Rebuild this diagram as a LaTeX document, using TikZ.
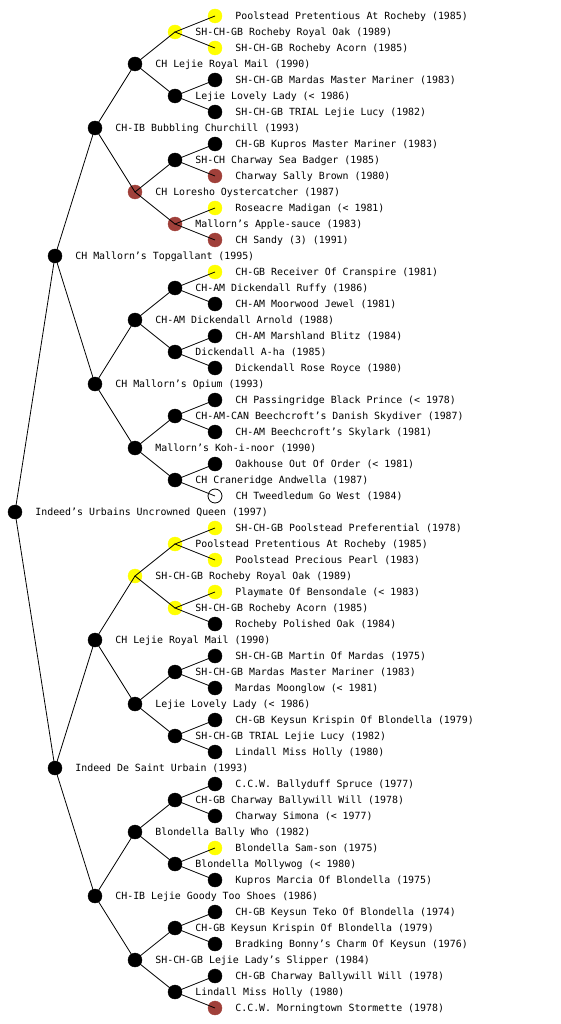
\documentclass[tikz,border=0pt]{standalone}
\usepackage{fontspec}
\setmonofont{DejaVu Sans Mono}
\usepackage{tikz}
\definecolor{clearyellow}{RGB}{255,255,0}
\definecolor{redcoat}{RGB}{160,64,58}
\tikzset{
  dog/.style={circle, minimum size=14pt, inner sep=0pt, draw=#1, fill=#1},
  dog/.default=black,
  open dog/.style={circle, minimum size=14pt, inner sep=0pt, draw=black, fill=white, line width=0.8pt},
  dog name/.style={anchor=base west, inner sep=0pt, yshift=-3.6pt,
      font=\ttfamily\fontsize{9.9}{12}\selectfont},
  every label/.style={dog name},
  label distance=13pt,
  pedigree line/.style={black, line width=0.8pt}
}

\begin{document}
\begin{tikzpicture}[x=1pt, y=-1pt]
  \useasboundingbox (0,0) rectangle (560,1024);

  % ------------------------------------------------------------------
  % Dam's side (upper half).
  % ------------------------------------------------------------------
  \node[dog=clearyellow, label=east:{Poolstead Pretentious At Rocheby (1985)}] (n1) at (215,16) {};
  \node[dog=clearyellow, label=east:{SH-CH-GB Rocheby Royal Oak (1989)}] (n2) at (175,32) {};
  \node[dog=clearyellow, label=east:{SH-CH-GB Rocheby Acorn (1985)}] (n3) at (215,48) {};
  \node[dog, label=east:{CH Lejie Royal Mail (1990)}] (n4) at (135,64) {};
  \node[dog, label=east:{SH-CH-GB Mardas Master Mariner (1983)}] (n5) at (215,80) {};
  \node[dog, label=east:{Lejie Lovely Lady (< 1986)}] (n6) at (175,96) {};
  \node[dog, label=east:{SH-CH-GB TRIAL Lejie Lucy (1982)}] (n7) at (215,112) {};
  \node[dog, label=east:{CH-IB Bubbling Churchill (1993)}] (n8) at (95,128) {};
  \node[dog, label=east:{CH-GB Kupros Master Mariner (1983)}] (n9) at (215,144) {};
  \node[dog, label=east:{SH-CH Charway Sea Badger (1985)}] (n10) at (175,160) {};
  \node[dog=redcoat, label=east:{Charway Sally Brown (1980)}] (n11) at (215,176) {};
  \node[dog=redcoat, label=east:{CH Loresho Oystercatcher (1987)}] (n12) at (135,192) {};
  \node[dog=clearyellow, label=east:{Roseacre Madigan (< 1981)}] (n13) at (215,208) {};
  \node[dog=redcoat, label=east:{Mallorn’s Apple-sauce (1983)}] (n14) at (175,224) {};
  \node[dog=redcoat, label=east:{CH Sandy (3) (1991)}] (n15) at (215,240) {};
  \node[dog, label=east:{CH Mallorn’s Topgallant (1995)}] (n16) at (55,256) {};
  \node[dog=clearyellow, label=east:{CH-GB Receiver Of Cranspire (1981)}] (n17) at (215,272) {};
  \node[dog, label=east:{CH-AM Dickendall Ruffy (1986)}] (n18) at (175,288) {};
  \node[dog, label=east:{CH-AM Moorwood Jewel (1981)}] (n19) at (215,304) {};
  \node[dog, label=east:{CH-AM Dickendall Arnold (1988)}] (n20) at (135,320) {};
  \node[dog, label=east:{CH-AM Marshland Blitz (1984)}] (n21) at (215,336) {};
  \node[dog, label=east:{Dickendall A-ha (1985)}] (n22) at (175,352) {};
  \node[dog, label=east:{Dickendall Rose Royce (1980)}] (n23) at (215,368) {};
  \node[dog, label=east:{CH Mallorn’s Opium (1993)}] (n24) at (95,384) {};
  \node[dog, label=east:{CH Passingridge Black Prince (< 1978)}] (n25) at (215,400) {};
  \node[dog, label=east:{CH-AM-CAN Beechcroft’s Danish Skydiver (1987)}] (n26) at (175,416) {};
  \node[dog, label=east:{CH-AM Beechcroft’s Skylark (1981)}] (n27) at (215,432) {};
  \node[dog, label=east:{Mallorn’s Koh-i-noor (1990)}] (n28) at (135,448) {};
  \node[dog, label=east:{Oakhouse Out Of Order (< 1981)}] (n29) at (215,464) {};
  \node[dog, label=east:{CH Craneridge Andwella (1987)}] (n30) at (175,480) {};
  \node[open dog, label=east:{CH Tweedledum Go West (1984)}] (n31) at (215,496) {};

  % ------------------------------------------------------------------
  % The dog itself.
  % ------------------------------------------------------------------
  \node[dog, label=east:{Indeed’s Urbains Uncrowned Queen (1997)}] (n32) at (15,512) {};

  % ------------------------------------------------------------------
  % Sire's side (lower half).
  % ------------------------------------------------------------------
  \node[dog=clearyellow, label=east:{SH-CH-GB Poolstead Preferential (1978)}] (n33) at (215,528) {};
  \node[dog=clearyellow, label=east:{Poolstead Pretentious At Rocheby (1985)}] (n34) at (175,544) {};
  \node[dog=clearyellow, label=east:{Poolstead Precious Pearl (1983)}] (n35) at (215,560) {};
  \node[dog=clearyellow, label=east:{SH-CH-GB Rocheby Royal Oak (1989)}] (n36) at (135,576) {};
  \node[dog=clearyellow, label=east:{Playmate Of Bensondale (< 1983)}] (n37) at (215,592) {};
  \node[dog=clearyellow, label=east:{SH-CH-GB Rocheby Acorn (1985)}] (n38) at (175,608) {};
  \node[dog, label=east:{Rocheby Polished Oak (1984)}] (n39) at (215,624) {};
  \node[dog, label=east:{CH Lejie Royal Mail (1990)}] (n40) at (95,640) {};
  \node[dog, label=east:{SH-CH-GB Martin Of Mardas (1975)}] (n41) at (215,656) {};
  \node[dog, label=east:{SH-CH-GB Mardas Master Mariner (1983)}] (n42) at (175,672) {};
  \node[dog, label=east:{Mardas Moonglow (< 1981)}] (n43) at (215,688) {};
  \node[dog, label=east:{Lejie Lovely Lady (< 1986)}] (n44) at (135,704) {};
  \node[dog, label=east:{CH-GB Keysun Krispin Of Blondella (1979)}] (n45) at (215,720) {};
  \node[dog, label=east:{SH-CH-GB TRIAL Lejie Lucy (1982)}] (n46) at (175,736) {};
  \node[dog, label=east:{Lindall Miss Holly (1980)}] (n47) at (215,752) {};
  \node[dog, label=east:{Indeed De Saint Urbain (1993)}] (n48) at (55,768) {};
  \node[dog, label=east:{C.C.W. Ballyduff Spruce (1977)}] (n49) at (215,784) {};
  \node[dog, label=east:{CH-GB Charway Ballywill Will (1978)}] (n50) at (175,800) {};
  \node[dog, label=east:{Charway Simona (< 1977)}] (n51) at (215,816) {};
  \node[dog, label=east:{Blondella Bally Who (1982)}] (n52) at (135,832) {};
  \node[dog=clearyellow, label=east:{Blondella Sam-son (1975)}] (n53) at (215,848) {};
  \node[dog, label=east:{Blondella Mollywog (< 1980)}] (n54) at (175,864) {};
  \node[dog, label=east:{Kupros Marcia Of Blondella (1975)}] (n55) at (215,880) {};
  \node[dog, label=east:{CH-IB Lejie Goody Too Shoes (1986)}] (n56) at (95,896) {};
  \node[dog, label=east:{CH-GB Keysun Teko Of Blondella (1974)}] (n57) at (215,912) {};
  \node[dog, label=east:{CH-GB Keysun Krispin Of Blondella (1979)}] (n58) at (175,928) {};
  \node[dog, label=east:{Bradking Bonny’s Charm Of Keysun (1976)}] (n59) at (215,944) {};
  \node[dog, label=east:{SH-CH-GB Lejie Lady’s Slipper (1984)}] (n60) at (135,960) {};
  \node[dog, label=east:{CH-GB Charway Ballywill Will (1978)}] (n61) at (215,976) {};
  \node[dog, label=east:{Lindall Miss Holly (1980)}] (n62) at (175,992) {};
  \node[dog=redcoat, label=east:{C.C.W. Morningtown Stormette (1978)}] (n63) at (215,1008) {};

  % ------------------------------------------------------------------
  % Parent links, from each dog to its sire and dam.
  % ------------------------------------------------------------------
  \foreach \g in {1,2,4,8,16}{
    \pgfmathtruncatemacro\last{16/\g}
    \foreach \k in {1,...,\last}{
      \pgfmathtruncatemacro\p{2*\g*(2*\k-1)}
      \pgfmathtruncatemacro\a{\p-\g}
      \pgfmathtruncatemacro\b{\p+\g}
      \draw[pedigree line] (n\a.center) -- (n\p.center) -- (n\b.center);
    }
  }

\end{tikzpicture}
\end{document}
